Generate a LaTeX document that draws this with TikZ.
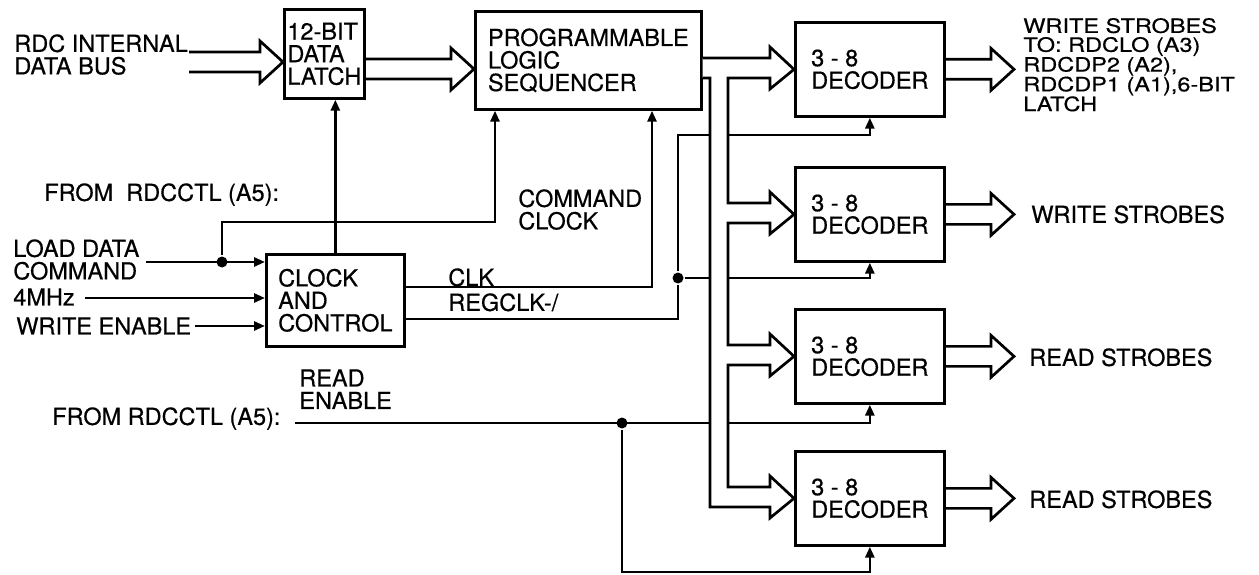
\documentclass[tikz,border=0pt]{standalone}
\usepackage{fontspec}
\setmainfont{TeX Gyre Heros}[FakeBold=0.5]
\usetikzlibrary{arrows.meta,calc}
\begin{document}
\begin{tikzpicture}[x=1pt, y=-1pt, line width=2.7pt, font=\fontsize{23.5}{22.5}\selectfont,
    blk/.style={draw, align=left, inner sep=0pt, anchor=north west},
    lbl/.style={align=left, inner sep=0pt, anchor=north west},
    junc/.style={circle, fill, inner sep=0pt, minimum size=11pt},
    sig/.style={-{Triangle[length=11pt, width=9pt]}},
    bus/.style={to path={let \p1=(\tikztostart), \p2=(\tikztotarget) in
        (\x1,\y1+10pt) -- (\x2-23pt,\y2+10pt) -- (\x2-23pt,\y2+21pt) -- (\x2,\y2)
        -- (\x2-23pt,\y2-21pt) -- (\x2-23pt,\y2-10pt) -- (\x1,\y1-10pt)}}]
  \useasboundingbox (0,0) rectangle (1259,575);

  \node[blk, minimum width=80pt, minimum height=89pt] (latch) at (283,8) {12-BIT\\DATA\\LATCH};
  \node[blk, minimum width=226pt, minimum height=98pt] (pls) at (474,10) {PROGRAMMABLE\\LOGIC\\SEQUENCER};
  \node[blk, minimum width=138pt, minimum height=92pt] (clk_c) at (265,253) {CLOCK\\AND\\CONTROL};
  \node[blk, minimum width=149pt, minimum height=94pt] (dec_a) at (794,21) {3 - 8\\DECODER};
  \node[blk, minimum width=149pt, minimum height=94pt] (dec_b) at (794,166) {3 - 8\\DECODER};
  \node[blk, minimum width=149pt, minimum height=94pt] (dec_c) at (794,308) {3 - 8\\DECODER};
  \node[blk, minimum width=149pt, minimum height=94pt] (dec_d) at (794,450) {3 - 8\\DECODER};

  \node[lbl] (l_bus) at (13,33) {RDC INTERNAL\\DATA BUS};
  \node[lbl] (l_from_a) at (43,182) {FROM\ \ RDCCTL (A5):};
  \node[lbl] (l_load) at (12,238) {LOAD DATA\\COMMAND};
  \node[lbl] (l_mhz) at (12,287) {4MHz};
  \node[lbl] (l_wen) at (15,316) {WRITE ENABLE};
  \node[lbl] (l_from_b) at (51,406) {FROM RDCCTL (A5):};
  \node[lbl] (l_ren) at (298,368) {READ\\ENABLE};
  \node[lbl] (l_cmd) at (517,188) {COMMAND\\CLOCK};
  \node[lbl] (l_clk) at (447,267) {CLK};
  \node[lbl] (l_reg) at (447,292) {REGCLK-/};
  \node[lbl, yscale=0.84, transform shape] (l_out_a) at (1022,17) {WRITE STROBES\\TO: RDCLO (A3)\\RDCDP2 (A2),\\RDCDP1 (A1),6-BIT\\LATCH};
  \node[lbl] (l_out_b) at (1030,204) {WRITE STROBES};
  \node[lbl] (l_out_c) at (1028,347) {READ STROBES};
  \node[lbl] (l_out_d) at (1028,489) {READ STROBES};

  \node[junc] (j_load) at (222,262) {};
  \node[junc] (j_reg) at (678,278) {};
  \node[junc] (j_ren) at (622,423) {};

  \draw[sig, shorten <=5pt] (l_load.east |- j_load) -- (clk_c.west |- j_load);
  \draw[sig, shorten <=9pt] (l_mhz.east |- 0,298) -- (clk_c.west |- 0,298);
  \draw[sig, shorten <=3pt] (l_wen.east |- 0,326) -- (clk_c.west |- 0,326);
  \draw[sig] (j_load) |- (495,222) -- (pls.south -| 495,0);
  \draw[sig] (clk_c.north) -- (clk_c.north |- latch.south);
  \draw[sig] (clk_c.east |- 0,287) -| (pls.south -| 652,0);
  \draw (clk_c.east |- 0,319) -| (j_reg);
  \draw[sig] (j_reg) |- (dec_a.south |- 0,135) -- (dec_a.south);
  \draw[sig] (j_reg) -- (dec_b.south |- j_reg) -- (dec_b.south);
  \draw[sig, shorten <=13pt] (l_from_b.east |- j_ren) -- (dec_c.south |- j_ren) -- (dec_c.south);
  \draw[sig] (j_ren) |- (dec_d.south |- 0,572) -- (dec_d.south);

  \draw[bus] (l_bus.east |- 0,62) to (latch.west |- 0,62);
  \draw[bus] (latch.east |- 0,69) to (pls.west |- 0,69);
  \draw[bus] (dec_a.east) to (dec_a.east -| 1014,0);
  \draw[bus] (dec_b.east) to (dec_b.east -| 1014,0);
  \draw[bus] (dec_c.east) to (dec_c.east -| 1014,0);
  \draw[bus] (dec_d.east) to (dec_d.east -| 1014,0);
  \draw[fill=white] (pls.east |- 0,58) -- (770,58) -- (770,47) -- (dec_a.west) -- (770,89) -- (770,78)
    -- (728,78) -- (728,203) -- (770,203) -- (770,192) -- (dec_b.west) -- (770,234) -- (770,223)
    -- (728,223) -- (728,345) -- (770,345) -- (770,334) -- (dec_c.west) -- (770,376) -- (770,365)
    -- (728,365) -- (728,487) -- (770,487) -- (770,476) -- (dec_d.west) -- (770,518) -- (770,507)
    -- (710,507) -- (710,78) -- (pls.east |- 0,78);
\end{tikzpicture}
\end{document}
